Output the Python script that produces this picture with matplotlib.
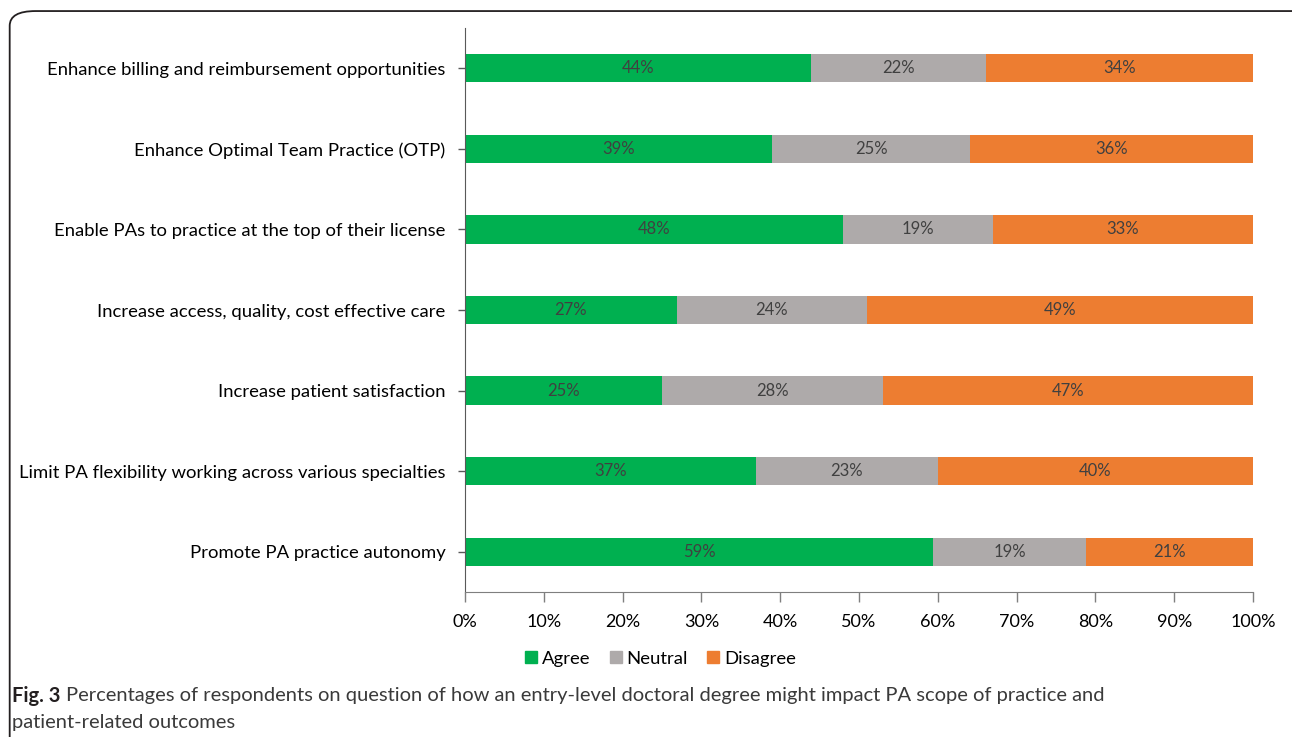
import matplotlib.pyplot as plt
from matplotlib.patches import FancyBboxPatch
from matplotlib.lines import Line2D

# Survey responses, in percent of respondents (top row first)
categories = [
    'Enhance billing and reimbursement opportunities',
    'Enhance Optimal Team Practice (OTP)',
    'Enable PAs to practice at the top of their license',
    'Increase access, quality, cost effective care',
    'Increase patient satisfaction',
    'Limit PA flexibility working across various specialties',
    'Promote PA practice autonomy',
]
agree = [43.9, 39.0, 48.0, 26.9, 25.0, 36.9, 59.4]
neutral = [22.2, 25.1, 19.0, 24.1, 28.0, 23.1, 19.4]
disagree = [33.9, 35.9, 33.0, 49.0, 47.0, 40.0, 21.2]

series = [('Agree', agree, '#00B050'),
          ('Neutral', neutral, '#AEAAAA'),
          ('Disagree', disagree, '#ED7D31')]

plt.rcParams['font.family'] = ['Lato', 'DejaVu Sans']

fig = plt.figure(figsize=(12.92, 7.37), dpi=100)
ax = fig.add_axes([0.3599, 0.1967, 0.6099, 0.7653])

ypos = list(range(len(categories)))
left = [0.0] * len(categories)
for name, vals, color in series:
    bars = ax.barh(ypos, vals, left=left, height=0.35, color=color, label=name)
    for b, v in zip(bars, vals):
        ax.text(b.get_x() + b.get_width() / 2, b.get_y() + b.get_height() / 2,
                f'{v:.0f}%', ha='center', va='center', fontsize=12, color='#404040')
    left = [l + v for l, v in zip(left, vals)]

ax.set_xlim(0, 100)
ax.set_ylim(len(categories) - 0.5, -0.5)
ax.set_yticks(ypos)
ax.set_yticklabels(categories, fontsize=13.3)
ax.set_xticks(range(0, 101, 10))
ax.set_xticklabels([f'{t}%' for t in range(0, 101, 10)], fontsize=13)
ax.tick_params(axis='x', length=7, width=1, color='#7f7f7f', pad=9)
ax.tick_params(axis='y', length=5, width=1, color='#595959', pad=9)

for side in ['top', 'right']:
    ax.spines[side].set_visible(False)
ax.spines['left'].set_color('#595959')
ax.spines['bottom'].set_color('#7f7f7f')

handles = [Line2D([], [], marker='s', linestyle='', markersize=9,
                  markerfacecolor=c, markeredgecolor=c) for _, _, c in series]
fig.legend(handles, [n for n, _, _ in series], loc='center', ncol=3,
           bbox_to_anchor=(0.511, 0.106), frameon=False, fontsize=13.3,
           handlelength=0.7, handletextpad=0.25, columnspacing=1.0)

# caption under the chart: bold figure number, then the description
cap_y = 0.056
fig_no = fig.text(0.0093, cap_y, 'Fig. 3', fontsize=14.5, fontweight='bold',
                  color='#231f20', va='center')
renderer = fig.canvas.get_renderer()
bb = fig_no.get_window_extent(renderer).transformed(fig.transFigure.inverted())
fig.text(bb.x1 + 0.004, cap_y, 'Percentages of respondents on question of how an entry-level '
         'doctoral degree might impact PA scope of practice and',
         fontsize=14.5, color='#3a3a3a', va='center')
fig.text(0.0093, 0.020, 'patient-related outcomes', fontsize=14.5, color='#3a3a3a', va='center')

# rounded frame around the whole figure
frame = FancyBboxPatch((0.0075, -0.05), 1.05, 1.035,
                       boxstyle='round,pad=0,rounding_size=0.02',
                       transform=fig.transFigure, fill=False,
                       edgecolor='#231f20', linewidth=1.3)
fig.patches.append(frame)

fig.savefig('out.png', dpi=100)
